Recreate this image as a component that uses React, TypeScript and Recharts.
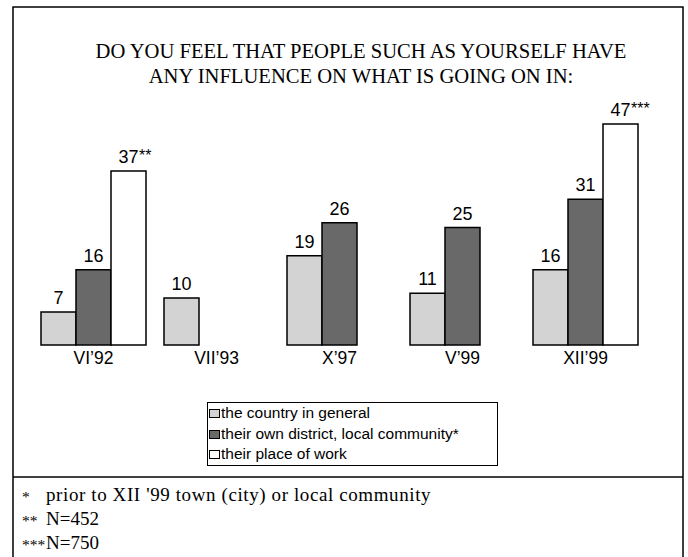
import { Bar, BarChart, LabelList, Legend, XAxis, YAxis } from "recharts";

const periods = ["VI’92", "VII’93", "X’97", "V’99", "XII’99"];
const countryValues = [7, 10, 19, 11, 16];
const districtValues = [16, null, 26, 25, 31];
const workValues = [37, null, null, null, 47];
const workNotes = ["**", "", "", "", "***"];

const seriesNames = ["the country in general", "their own district, local community*", "their place of work"];
const titleLines = ["DO YOU FEEL THAT PEOPLE SUCH AS YOURSELF HAVE", "ANY INFLUENCE ON WHAT IS GOING ON IN:"];
const footnoteMarks = ["*", "**", "***"];
const footnoteTexts = ["prior to XII '99 town (city) or local community", "N=452", "N=750"];

const data = periods.map((period, i) => ({
  period,
  country: countryValues[i],
  district: districtValues[i],
  work: workValues[i],
  workNote: workNotes[i],
}));

const SANS = "'Liberation Sans', Arial, sans-serif";
const SERIF = "'Liberation Serif', 'Times New Roman', serif";

function ValueLabel(props: any) {
  const { x, y, width, value } = props;
  if (value == null) return null;
  return (
    <text x={Number(x) + Number(width) / 2} y={Number(y) - 8} textAnchor="middle" fontSize={18} fontFamily={SANS} fill="#000">
      {value}
    </text>
  );
}

// asterisks after the number, raised a little
function NoteLabel(props: any) {
  const { x, y, width, value } = props;
  if (!value) return null;
  return (
    <text x={Number(x) + Number(width) / 2 + 10.5} y={Number(y) - 10} fontSize={16} fontFamily={SANS} fill="#000">
      {value}
    </text>
  );
}

function LegendBox({ payload }: any) {
  return (
    <div style={{ border: "1.5px solid #000", boxSizing: "border-box", width: 291, height: 64, paddingLeft: 1, background: "#fff" }}>
      {(payload || []).map((entry: any) => (
        <div key={entry.value} style={{ height: 20.5, lineHeight: "20.5px", fontFamily: SANS, fontSize: 15.5, color: "#000", whiteSpace: "nowrap" }}>
          <span style={{ display: "inline-block", width: 9, height: 7, border: "1px solid #000", background: entry.color, marginRight: 1 }} />
          {entry.value}
        </div>
      ))}
    </div>
  );
}

export default function App() {
  return (
    <div style={{ position: "absolute", left: 0, top: 0, width: 688, height: 557, background: "#fff" }}>
      <BarChart width={688} height={557} data={data} margin={{ top: 110, right: 41, bottom: 182, left: 32 }} barCategoryGap={9} barGap={0}>
        <XAxis dataKey="period" axisLine={false} tickLine={false} tickSize={0} tickMargin={7} height={30} interval={0}
          tick={{ fontSize: 17.5, fontFamily: SANS, fill: "#000" }} />
        <YAxis hide domain={[0, 50]} />
        <Legend layout="horizontal" verticalAlign="middle" align="center" width={291} content={<LegendBox />}
          wrapperStyle={{ left: 207, top: 402, width: 291, height: 64 }} />
        <Bar dataKey="country" name={seriesNames[0]} fill="#d3d3d3" stroke="#000" strokeWidth={1.5} isAnimationActive={false}>
          <LabelList dataKey="country" content={<ValueLabel />} />
        </Bar>
        <Bar dataKey="district" name={seriesNames[1]} fill="#696969" stroke="#000" strokeWidth={1.5} isAnimationActive={false}>
          <LabelList dataKey="district" content={<ValueLabel />} />
        </Bar>
        <Bar dataKey="work" name={seriesNames[2]} fill="#ffffff" stroke="#000" strokeWidth={1.5} isAnimationActive={false}>
          <LabelList dataKey="work" content={<ValueLabel />} />
          <LabelList dataKey="workNote" content={<NoteLabel />} />
        </Bar>
      </BarChart>
      <svg width={688} height={557} style={{ position: "absolute", left: 0, top: 0, pointerEvents: "none" }}>
        <path d="M13 557 V7 H683 V557" fill="none" stroke="#000" strokeWidth={1.5} />
        <line x1={13} y1={477} x2={683} y2={477} stroke="#000" strokeWidth={1.5} />
        {titleLines.map((line, i) => (
          <text key={line} x={361} y={58 + i * 25} textAnchor="middle" fontSize={20.6} fontFamily={SERIF} fill="#000">{line}</text>
        ))}
        {footnoteTexts.map((txt, i) => (
          <g key={txt}>
            <text x={22} y={502 + i * 24} fontSize={15.5} fontFamily={SERIF} fill="#000">{footnoteMarks[i]}</text>
            <text x={46} y={501 + i * 24} fontSize={19} fontFamily={SERIF} letterSpacing={i === 0 ? 0.6 : 0} fill="#000">{txt}</text>
          </g>
        ))}
      </svg>
    </div>
  );
}
